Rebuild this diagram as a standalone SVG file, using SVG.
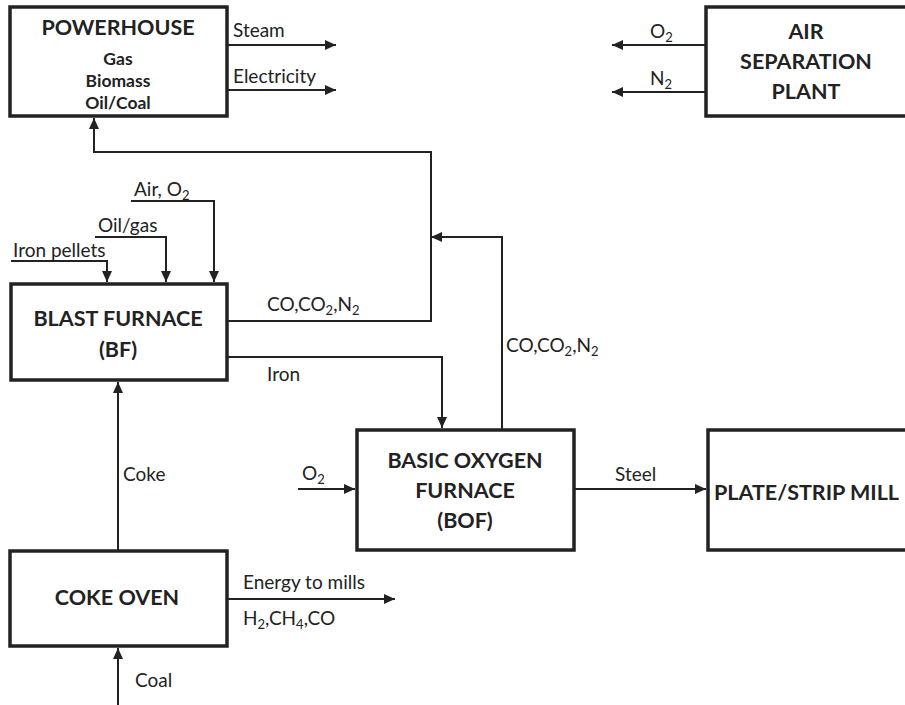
<svg xmlns="http://www.w3.org/2000/svg" width="905" height="705" viewBox="0 0 905 705">
<style>
.box{fill:#fff;stroke:#222;stroke-width:3.5}
.ln{fill:none;stroke:#222;stroke-width:2}
.h{font-family:Lato,"Liberation Sans",sans-serif;font-weight:bold;fill:#222;text-anchor:middle;font-size:21.5px}
.m{font-size:17.5px}
.t{font-family:Lato,"Liberation Sans",sans-serif;font-size:19px;fill:#222}
.s{font-size:13px}
</style>
<defs>
<marker id="ah" markerUnits="userSpaceOnUse" markerWidth="12" markerHeight="10" refX="11" refY="5" orient="auto"><path d="M0,0 L11,5 L0,10 z" fill="#222"/></marker>
</defs>
<rect width="905" height="705" fill="#fff"/>
<g id="connectors">
<path class="ln" d="M228,45 H336" marker-end="url(#ah)"/>
<path class="ln" d="M228,90 H336" marker-end="url(#ah)"/>
<path class="ln" d="M706,45 H612" marker-end="url(#ah)"/>
<path class="ln" d="M706,92 H612" marker-end="url(#ah)"/>
<path class="ln" d="M11,261 H107 V282" marker-end="url(#ah)"/>
<path class="ln" d="M95,237 H166 V282" marker-end="url(#ah)"/>
<path class="ln" d="M131,201 H214 V282" marker-end="url(#ah)"/>
<path class="ln" d="M228,321 H431 V152 H94 V118" marker-end="url(#ah)"/>
<path class="ln" d="M502,429 V237 H431" marker-end="url(#ah)"/>
<path class="ln" d="M228,357 H442 V428" marker-end="url(#ah)"/>
<path class="ln" d="M118,550 V382" marker-end="url(#ah)"/>
<path class="ln" d="M118,705 V648" marker-end="url(#ah)"/>
<path class="ln" d="M228,599 H395" marker-end="url(#ah)"/>
<path class="ln" d="M298,489 H355" marker-end="url(#ah)"/>
<path class="ln" d="M574,489 H706" marker-end="url(#ah)"/>
<text class="t" x="233" y="37">Steam</text>
<text class="t" x="233" y="83">Electricity</text>
<text class="t" x="650" y="38">O<tspan class="s" dy="4">2</tspan></text>
<text class="t" x="650" y="85">N<tspan class="s" dy="4">2</tspan></text>
<text class="t" x="13" y="257">Iron pellets</text>
<text class="t" x="98" y="232">Oil/gas</text>
<text class="t" x="134" y="196">Air, O<tspan class="s" dy="4">2</tspan></text>
<text class="t" x="267" y="311">CO,CO<tspan class="s" dy="4">2</tspan><tspan dy="-4">,N</tspan><tspan class="s" dy="4">2</tspan></text>
<text class="t" x="267" y="381">Iron</text>
<text class="t" x="506" y="352">CO,CO<tspan class="s" dy="4">2</tspan><tspan dy="-4">,N</tspan><tspan class="s" dy="4">2</tspan></text>
<text class="t" x="123" y="481">Coke</text>
<text class="t" x="302" y="480">O<tspan class="s" dy="4">2</tspan></text>
<text class="t" x="615" y="481">Steel</text>
<text class="t" x="243" y="589">Energy to mills</text>
<text class="t" x="243" y="625">H<tspan class="s" dy="4">2</tspan><tspan dy="-4">,CH</tspan><tspan class="s" dy="4">4</tspan><tspan dy="-4">,CO</tspan></text>
<text class="t" x="135" y="687">Coal</text>
</g>
<g id="powerhouse">
<rect class="box" x="10" y="7" width="217" height="109"/>
<text class="h" x="118" y="35">POWERHOUSE</text>
<text class="h m" x="118" y="65">Gas</text>
<text class="h m" x="118" y="87">Biomass</text>
<text class="h m" x="118" y="109">Oil/Coal</text>
</g>
<g id="air-separation">
<rect class="box" x="706" y="7" width="204" height="109"/>
<text class="h" x="806" y="39">AIR</text>
<text class="h" x="806" y="69">SEPARATION</text>
<text class="h" x="806" y="99">PLANT</text>
</g>
<g id="blast-furnace">
<rect class="box" x="11" y="284" width="216" height="96"/>
<text class="h" x="118" y="326">BLAST FURNACE</text>
<text class="h" x="118" y="357">(BF)</text>
</g>
<g id="bof">
<rect class="box" x="357" y="430" width="217" height="120"/>
<text class="h" x="465" y="468">BASIC OXYGEN</text>
<text class="h" x="465" y="498">FURNACE</text>
<text class="h" x="465" y="528">(BOF)</text>
</g>
<g id="plate-mill">
<rect class="box" x="708" y="430" width="204" height="120"/>
<text class="h" x="714" y="500" style="text-anchor:start">PLATE/STRIP MILL</text>
</g>
<g id="coke-oven">
<rect class="box" x="10" y="551" width="217" height="95"/>
<text class="h" x="117" y="605">COKE OVEN</text>
</g>
</svg>
